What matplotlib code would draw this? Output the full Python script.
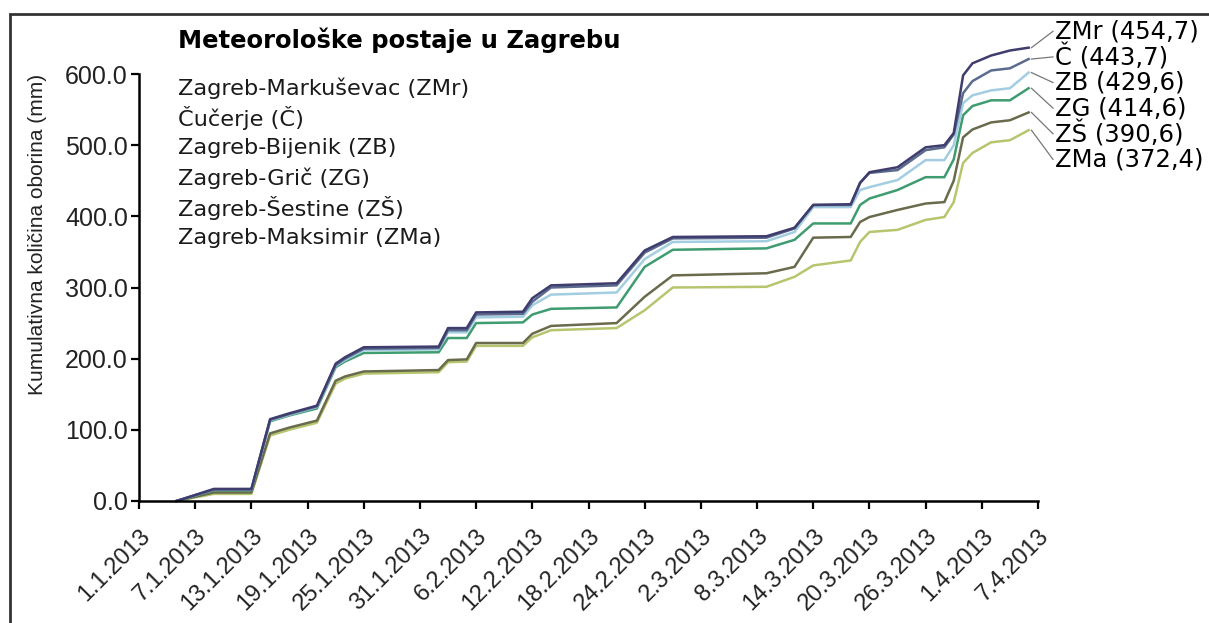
import matplotlib.pyplot as plt
from matplotlib.patches import Rectangle

# dani od 1.1.2013
dani = [4, 8, 12, 14, 16, 19, 21, 22, 24, 32, 33, 35, 36, 41, 42, 44, 51, 54,
        57, 67, 70, 72, 76, 77, 78, 81, 84, 86, 87, 88, 89, 91, 93, 95]

zmr = [0, 17, 17, 115, 123, 134, 193, 202, 216, 217, 243, 243, 265, 266, 285, 303, 306, 352,
       371, 372, 384, 416, 417, 447, 462, 469, 497, 500, 517, 598, 615, 626, 633, 637]
cuc = [0, 16, 16, 114, 122, 133, 191, 200, 214, 215, 240, 240, 262, 263, 280, 300, 303, 349,
       369, 370, 383, 416, 416, 447, 461, 465, 493, 497, 515, 573, 590, 605, 608, 621]
zb = [0, 16, 16, 113, 121, 132, 190, 198, 212, 213, 237, 237, 258, 259, 275, 290, 293, 340,
      364, 365, 378, 413, 413, 437, 441, 451, 479, 479, 500, 559, 570, 577, 580, 602]
zg = [0, 15, 15, 112, 120, 130, 188, 196, 208, 209, 229, 229, 250, 251, 262, 270, 272, 329,
      353, 355, 367, 390, 390, 416, 425, 437, 455, 455, 480, 542, 555, 563, 563, 580]
zs = [0, 12, 12, 95, 103, 113, 169, 175, 182, 184, 198, 199, 222, 222, 235, 246, 250, 287,
      317, 320, 329, 370, 371, 392, 399, 409, 418, 420, 450, 511, 522, 532, 535, 546]
zma = [0, 10, 10, 92, 100, 110, 165, 172, 179, 181, 195, 196, 218, 218, 230, 240, 243, 268,
       300, 301, 315, 331, 338, 364, 378, 381, 395, 399, 420, 475, 489, 504, 507, 521]

postaje = ['Zagreb-Markuševac (ZMr)', 'Čučerje (Č)', 'Zagreb-Bijenik (ZB)',
           'Zagreb-Grič (ZG)', 'Zagreb-Šestine (ZŠ)', 'Zagreb-Maksimir (ZMa)']
oznake = ['ZMr (454,7)', 'Č (443,7)', 'ZB (429,6)', 'ZG (414,6)', 'ZŠ (390,6)', 'ZMa (372,4)']
boje = ['#3f3c6e', '#5a6b8e', '#a3cde0', '#3e9c70', '#6a6a4c', '#b6c66e']

datumi = ['1.1.2013', '7.1.2013', '13.1.2013', '19.1.2013', '25.1.2013', '31.1.2013',
          '6.2.2013', '12.2.2013', '18.2.2013', '24.2.2013', '2.3.2013', '8.3.2013',
          '14.3.2013', '20.3.2013', '26.3.2013', '1.4.2013', '7.4.2013']

serije = [zmr, cuc, zb, zg, zs, zma]

fig = plt.figure(figsize=(12.09, 6.23), dpi=100)
ax = fig.add_axes([139 / 1209, 1 - 501 / 623, 899 / 1209, 427 / 623])

# crtanje linija, odozdo prema gore (linije idu iznad 600 pa bez rezanja)
for i in range(len(serije) - 1, -1, -1):
    ax.plot(dani, serije[i], color=boje[i], lw=1.8, solid_joinstyle='round', clip_on=False)

ax.set_xlim(0, 96)
ax.set_ylim(0, 600)
ax.set_xticks([6 * i for i in range(len(datumi))])
ax.set_xticklabels(datumi, rotation=45, ha='right', va='top', rotation_mode='anchor',
                   fontsize=17, family='Liberation Sans', color='#222222')
ax.set_yticks(range(0, 601, 100))
ax.set_yticklabels([f'{v:.1f}' for v in range(0, 601, 100)], fontsize=18,
                   family='Liberation Sans', color='#222222')
ax.tick_params(axis='both', direction='out', length=6, width=1.6, pad=2)
ax.tick_params(axis='x', pad=11)
for s in ['top', 'right']:
    ax.spines[s].set_visible(False)
for s in ['left', 'bottom']:
    ax.spines[s].set_linewidth(1.8)

ax.set_ylabel('Kumulativna količina oborina (mm)', fontsize=15, color='#222222',
              family='Liberation Sans')
ax.yaxis.set_label_coords(-0.102, 0.625)

# oznake na kraju linija
kraj_y = [660, 624, 588, 552, 516, 480]
for i in range(len(serije)):
    ax.plot([dani[-1] + 0.3, 97.6], [serije[i][-1], kraj_y[i]], color='#777777', lw=0.9, clip_on=False)
    ax.text(97.8, kraj_y[i], oznake[i], fontsize=17.5, va='center', ha='left', clip_on=False)

# naslov i popis postaja
fig.text(178 / 1209, 1 - 40 / 623, 'Meteorološke postaje u Zagrebu', fontsize=17.5,
         fontweight='bold', va='center', ha='left')
for i, p in enumerate(postaje):
    fig.text(178 / 1209, 1 - (88 + 30 * i) / 623, p, fontsize=16.2, va='center', ha='left',
             color='#1a1a1a')

# okvir
fig.add_artist(Rectangle((10 / 1209, -0.5), 2, 0.5 + 1 - 14 / 623, transform=fig.transFigure,
                         fill=False, lw=2, edgecolor='#333333', clip_on=False))

plt.savefig('out.png', dpi=100)
